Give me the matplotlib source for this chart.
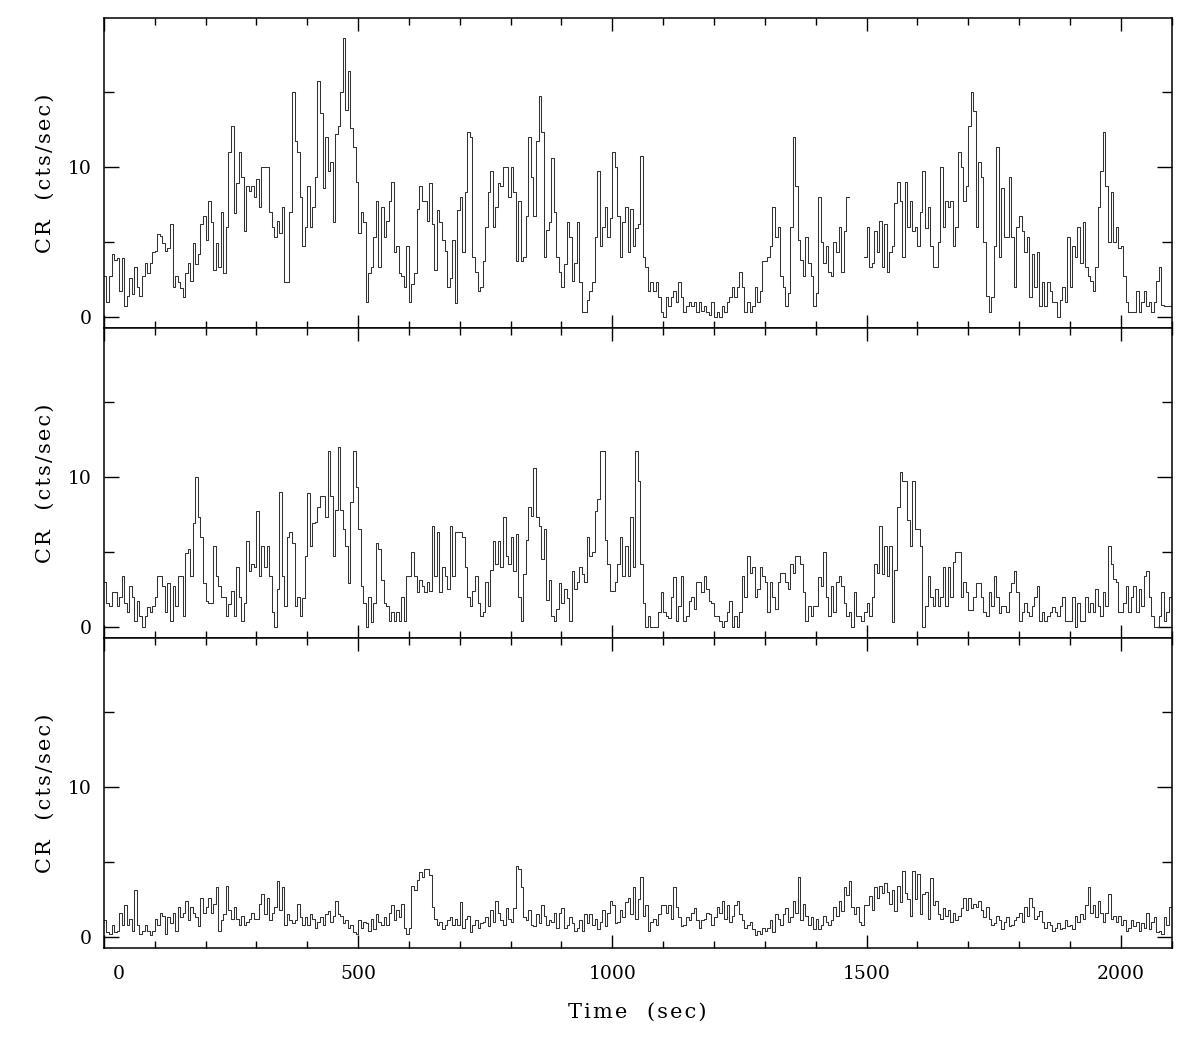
import numpy as np
import matplotlib
matplotlib.use('Agg')
import matplotlib.pyplot as plt
from matplotlib.ticker import MultipleLocator

plt.rcParams['font.family'] = ['DejaVu Serif']

nan = float('nan')
BIN_SEC = 5.0   # light curve bin size

# count rate (cts/sec), 20 bins = 100 s per line
rate_top = [
    2.7, 1.0, 2.7, 4.2, 3.8, 3.9, 1.7, 3.9, 0.7, 1.4, 2.6, 1.5, 3.3, 2.0, 1.4, 2.7, 3.6, 2.9, 3.6, 4.3,
    4.4, 5.5, 5.4, 4.9, 4.4, 4.6, 6.2, 2.0, 2.7, 2.3, 1.9, 1.3, 2.9, 3.6, 2.4, 4.9, 3.5, 4.2, 6.2, 6.7,
    5.1, 7.7, 6.3, 3.1, 4.9, 3.3, 7.0, 2.9, 6.0, 11.0, 12.7, 6.9, 8.9, 11.0, 9.3, 5.7, 8.7, 8.4, 8.7, 8.0,
    9.2, 7.3, 10.0, 10.0, 10.0, 7.0, 6.0, 5.3, 6.4, 5.6, 7.3, 2.3, 2.3, 7.0, 15.0, 11.7, 11.0, 8.0, 4.7, 6.0,
    8.7, 6.0, 7.3, 9.3, 15.7, 13.6, 8.6, 12.0, 9.7, 10.3, 6.3, 12.2, 12.7, 15.0, 18.6, 13.8, 16.4, 12.6, 11.3, 9.0,
    5.6, 7.0, 6.3, 1.0, 2.9, 3.3, 5.3, 7.7, 3.3, 7.3, 5.3, 6.4, 7.7, 9.0, 4.3, 4.7, 2.9, 2.7, 2.0, 4.7,
    1.0, 2.2, 2.9, 7.2, 8.7, 7.7, 7.7, 6.4, 8.9, 6.2, 3.1, 7.1, 6.3, 5.1, 4.4, 2.0, 2.6, 5.1, 0.9, 7.1,
    8.0, 4.3, 8.3, 12.3, 12.0, 4.0, 3.0, 1.7, 2.0, 3.7, 6.0, 8.3, 9.7, 6.0, 7.3, 8.9, 8.7, 10.0, 10.0, 8.0,
    10.0, 8.3, 3.7, 7.7, 3.7, 4.0, 6.7, 12.0, 9.3, 6.7, 11.7, 14.7, 12.3, 4.0, 5.8, 6.3, 10.6, 7.0, 4.0, 3.0,
    2.0, 3.5, 6.3, 5.3, 2.4, 3.6, 6.3, 2.3, 0.3, 0.3, 1.1, 1.7, 2.3, 5.3, 9.7, 4.7, 6.0, 7.3, 5.3, 6.6,
    11.0, 10.0, 6.7, 4.0, 6.3, 7.3, 4.3, 7.2, 4.7, 5.9, 6.2, 10.7, 4.0, 3.3, 1.7, 2.3, 1.7, 2.3, 1.3, 0.3,
    0.0, 1.3, 0.7, 1.3, 1.7, 1.0, 2.3, 1.3, 0.3, 0.7, 1.0, 0.7, 1.0, 0.3, 1.0, 0.4, 0.7, 0.3, 0.1, 1.0,
    0.0, 0.3, 0.0, 0.7, 0.3, 1.0, 1.3, 2.0, 1.3, 2.0, 3.0, 2.0, 0.3, 1.0, 0.3, 0.7, 2.0, 1.0, 1.7, 3.7,
    3.7, 4.0, 4.7, 7.3, 5.3, 6.0, 2.7, 2.0, 0.7, 1.6, 6.0, 12.0, 8.7, 5.1, 3.8, 2.7, 5.3, 3.6, 2.7, 0.7,
    1.6, 8.0, 5.0, 3.6, 4.7, 3.0, 2.7, 5.0, 4.3, 6.0, 3.0, 5.7, 8.0, nan, nan, nan, nan, nan, nan, 4.0,
    6.0, 3.3, 3.6, 5.7, 4.3, 6.4, 3.3, 6.2, 3.0, 4.3, 4.7, 7.6, 9.0, 7.7, 4.0, 9.0, 6.0, 7.7, 5.7, 6.0,
    4.7, 7.0, 9.7, 5.9, 7.3, 4.7, 3.3, 3.3, 5.0, 10.0, 6.0, 7.7, 7.3, 7.7, 4.7, 6.0, 11.0, 10.0, 7.7, 8.7,
    12.7, 15.0, 13.7, 6.0, 10.3, 9.3, 5.0, 1.4, 0.3, 1.3, 4.7, 11.3, 4.0, 8.6, 5.3, 5.3, 9.3, 5.3, 2.0, 6.0,
    6.7, 5.7, 4.3, 5.3, 1.3, 4.2, 2.0, 4.3, 0.7, 2.3, 0.7, 2.3, 1.7, 1.0, 1.0, 0.0, 1.1, 2.0, 1.0, 5.3,
    2.0, 4.7, 4.0, 6.0, 3.6, 6.3, 3.3, 2.7, 2.4, 1.7, 3.3, 7.3, 9.7, 12.3, 8.7, 5.0, 8.3, 5.0, 6.0, 4.6,
    4.7, 2.7, 1.0, 0.3, 0.3, 0.3, 1.7, 0.3, 1.0, 1.7, 0.7, 1.0, 0.3, 1.0, 2.4, 3.3, 0.8, 0.7, 0.7, 0.7,
]

rate_mid = [
    3.0, 1.6, 1.4, 2.3, 2.3, 1.4, 2.0, 3.4, 1.6, 1.0, 2.7, 2.0, 0.4, 1.7, 0.7, 0.0, 0.7, 1.3, 1.0, 1.4,
    2.0, 3.4, 3.4, 2.7, 1.0, 2.9, 0.4, 2.7, 1.4, 3.4, 3.4, 0.7, 4.9, 5.2, 3.4, 6.9, 10.0, 7.3, 6.0, 2.9,
    1.7, 1.6, 1.6, 5.4, 3.4, 2.7, 2.0, 2.0, 0.7, 1.5, 2.4, 0.7, 4.0, 2.0, 0.4, 1.6, 5.7, 3.7, 4.2, 4.0,
    7.7, 3.4, 5.4, 4.0, 5.4, 3.4, 1.0, 0.0, 2.5, 9.0, 3.4, 1.4, 6.0, 6.3, 5.6, 1.4, 2.0, 0.7, 1.9, 4.7,
    8.9, 5.4, 6.9, 7.0, 8.0, 8.7, 8.7, 7.3, 11.7, 8.7, 4.7, 7.8, 12.0, 7.8, 6.5, 5.4, 2.9, 8.3, 11.7, 9.3,
    6.5, 2.7, 1.6, 0.0, 2.0, 0.3, 1.6, 5.6, 5.2, 3.1, 1.6, 1.4, 0.4, 1.0, 0.4, 1.0, 0.4, 2.0, 0.4, 3.4,
    3.4, 5.0, 3.4, 2.3, 3.1, 2.7, 2.3, 3.0, 2.4, 6.7, 3.4, 6.3, 2.3, 4.0, 3.4, 2.5, 6.7, 3.4, 6.3, 6.3,
    6.3, 6.0, 4.0, 2.0, 1.4, 2.4, 3.4, 1.6, 0.7, 1.0, 3.0, 1.4, 3.8, 5.7, 4.2, 5.7, 4.0, 7.3, 4.7, 4.2,
    6.0, 3.7, 6.2, 2.0, 0.4, 3.5, 5.8, 8.0, 7.4, 10.6, 7.3, 6.7, 4.5, 6.5, 1.8, 3.1, 0.7, 0.4, 1.2, 2.9,
    1.6, 2.5, 1.9, 0.4, 3.7, 2.5, 3.0, 4.0, 3.5, 3.0, 6.0, 4.7, 5.0, 7.7, 8.5, 11.7, 11.7, 5.8, 4.2, 2.4,
    2.4, 3.0, 4.2, 6.0, 3.4, 5.4, 3.4, 7.3, 4.0, 11.7, 9.7, 4.2, 1.6, 0.0, 0.7, 0.0, 0.0, 0.0, 1.0, 2.3,
    1.0, 0.7, 0.6, 2.0, 3.3, 0.4, 1.4, 3.4, 0.4, 0.7, 1.7, 2.0, 1.2, 3.0, 3.0, 2.3, 3.4, 2.5, 1.7, 1.6,
    0.7, 0.7, 0.4, 0.0, 0.4, 1.0, 1.7, 0.0, 0.7, 0.0, 1.0, 3.4, 2.0, 4.7, 3.6, 4.0, 2.0, 2.5, 4.0, 3.4,
    3.0, 1.0, 3.0, 2.0, 1.2, 3.0, 3.6, 3.6, 3.0, 2.5, 4.2, 3.6, 4.7, 4.7, 4.2, 2.3, 0.4, 1.4, 0.7, 1.4,
    1.4, 3.3, 2.7, 5.0, 2.0, 0.7, 2.7, 1.0, 3.0, 3.4, 2.7, 1.6, 0.7, 1.0, 0.0, 2.3, 0.7, 0.7, 0.4, 1.0,
    1.6, 0.7, 2.0, 4.2, 3.6, 6.7, 3.5, 5.4, 3.4, 5.4, 0.3, 3.8, 8.0, 10.3, 9.7, 9.7, 7.1, 5.4, 9.7, 6.5,
    6.5, 5.4, 0.0, 1.4, 3.4, 2.0, 1.4, 2.5, 1.4, 2.0, 4.0, 1.4, 4.0, 2.0, 4.3, 5.0, 5.0, 2.0, 3.0, 2.3,
    1.1, 1.1, 2.0, 2.9, 2.9, 2.0, 1.0, 0.7, 2.3, 1.4, 3.4, 2.0, 0.9, 1.4, 1.4, 1.0, 2.3, 2.9, 3.7, 2.3,
    0.4, 1.0, 1.6, 1.0, 0.7, 1.4, 2.0, 2.7, 0.4, 1.0, 0.4, 0.7, 1.0, 1.3, 1.0, 0.7, 1.4, 2.0, 0.4, 0.4,
    0.4, 2.0, 0.0, 1.6, 0.4, 0.4, 2.0, 1.0, 1.6, 1.0, 2.5, 1.4, 0.7, 2.3, 1.4, 5.4, 4.2, 3.2, 3.0, 1.0,
    1.0, 1.6, 2.7, 1.0, 2.0, 2.7, 1.0, 2.5, 1.4, 3.4, 3.7, 2.0, 0.7, 0.0, 0.0, 0.7, 2.3, 0.4, 1.0, 2.0,
]

rate_bot = [
    1.1, 0.3, 0.2, 0.8, 0.3, 0.4, 1.6, 0.8, 2.1, 0.8, 1.2, 0.4, 3.1, 0.8, 0.2, 0.4, 0.8, 0.4, 0.1, 0.4,
    1.2, 0.8, 1.6, 1.4, 0.2, 1.3, 0.9, 1.6, 0.4, 2.0, 1.3, 1.6, 2.4, 1.1, 2.0, 1.6, 1.3, 0.7, 2.6, 1.6,
    2.0, 2.6, 1.6, 2.2, 3.3, 0.4, 1.1, 1.5, 3.4, 1.75, 1.2, 2.0, 1.2, 0.8, 1.4, 0.8, 1.0, 1.2, 1.6, 1.2,
    1.2, 2.2, 2.85, 1.5, 2.6, 1.1, 1.6, 2.0, 3.7, 1.75, 3.3, 0.8, 1.5, 1.1, 0.9, 1.1, 2.2, 1.3, 0.8, 1.3,
    0.8, 1.5, 1.2, 0.6, 1.0, 1.3, 0.8, 1.5, 1.7, 1.0, 1.4, 2.4, 1.5, 1.4, 0.9, 1.1, 0.6, 0.8, 0.3, 0.2,
    1.1, 0.6, 1.0, 0.9, 0.4, 1.2, 0.5, 1.5, 1.0, 0.8, 1.3, 0.8, 1.6, 2.1, 1.1, 1.8, 1.3, 2.2, 0.6, 0.2,
    0.6, 3.4, 3.1, 3.8, 4.3, 4.0, 4.5, 4.5, 4.1, 2.0, 1.2, 0.8, 1.0, 0.5, 0.8, 1.1, 1.3, 0.8, 1.2, 0.8,
    2.3, 0.6, 1.2, 1.4, 0.3, 0.8, 1.1, 0.6, 0.9, 1.0, 1.3, 0.7, 1.75, 1.0, 2.4, 1.6, 1.1, 0.8, 1.9, 1.2,
    1.0, 1.9, 4.7, 4.5, 3.3, 1.3, 1.1, 1.75, 0.8, 0.7, 1.5, 0.9, 2.1, 1.4, 0.8, 1.1, 1.0, 1.6, 0.6, 1.6,
    1.9, 0.6, 0.8, 1.3, 0.9, 0.4, 0.6, 1.1, 0.4, 1.5, 0.9, 1.5, 0.8, 1.2, 0.5, 1.0, 1.8, 0.7, 1.6, 2.4,
    2.1, 0.9, 1.0, 1.75, 1.3, 2.3, 2.6, 1.5, 3.3, 1.2, 2.5, 4.0, 1.4, 2.1, 0.4, 1.0, 1.2, 0.8, 1.5, 2.1,
    2.1, 1.6, 2.1, 1.2, 3.3, 2.0, 1.3, 0.7, 0.8, 1.3, 1.1, 1.6, 1.9, 1.1, 0.6, 1.1, 1.2, 1.6, 1.5, 0.8,
    1.3, 2.0, 1.6, 2.4, 1.2, 2.1, 1.0, 1.4, 2.1, 2.4, 1.5, 1.1, 0.6, 0.8, 1.0, 0.5, 0.1, 0.4, 0.2, 0.6,
    0.4, 0.6, 1.1, 0.3, 1.5, 1.2, 0.8, 1.5, 1.9, 1.0, 1.3, 2.4, 1.6, 4.0, 1.1, 2.2, 1.4, 0.8, 1.3, 0.5,
    1.2, 0.5, 0.8, 1.4, 1.0, 0.8, 1.1, 2.0, 1.4, 2.4, 1.7, 3.3, 2.8, 3.7, 2.0, 1.5, 2.0, 1.0, 0.8, 2.1,
    2.1, 2.7, 1.8, 3.3, 2.6, 3.4, 2.9, 3.6, 3.0, 2.2, 3.1, 1.7, 3.4, 2.3, 4.4, 2.9, 2.5, 1.4, 4.4, 2.5,
    4.2, 1.5, 2.85, 3.0, 1.2, 3.9, 2.1, 2.4, 1.5, 1.2, 1.9, 1.4, 1.8, 1.0, 1.6, 1.1, 1.4, 1.9, 2.6, 1.8,
    2.6, 1.9, 2.2, 2.0, 2.4, 1.75, 1.3, 2.0, 1.2, 0.8, 0.9, 1.4, 1.1, 0.5, 1.0, 1.3, 0.7, 0.8, 1.1, 1.3,
    1.6, 1.0, 2.0, 1.4, 2.6, 2.0, 1.2, 1.4, 1.7, 1.0, 0.6, 1.0, 0.8, 0.4, 0.6, 0.9, 0.5, 0.6, 1.1, 0.7,
    0.8, 0.5, 1.4, 1.0, 1.5, 1.2, 2.1, 3.3, 1.6, 2.1, 1.3, 2.4, 1.6, 1.0, 1.6, 2.85, 1.2, 1.4, 1.0, 1.4,
    0.8, 1.1, 0.4, 0.6, 1.1, 0.7, 1.0, 0.4, 0.9, 0.6, 1.6, 0.5, 1.0, 1.3, 0.3, 0.4, 0.2, 1.3, 0.8, 2.0,
]

x_ticks = [0, 500, 1000, 1500, 2000]
x_labels = ['', '500', '1000', '1500', '2000']
y_ticks = [0, 10]
y_labels = ['0', '10']


def spaced(s, gap):
    # the original labels are set with wide letter spacing
    return gap.join(s)


fig = plt.figure(figsize=(11.9, 10.46), dpi=100)

left, right = 0.0873, 0.9845
top, bottom = 0.9828, 0.0937
h = (top - bottom) / 3

panels = [rate_top, rate_mid, rate_bot]
for i, rate in enumerate(panels):
    ax = fig.add_axes([left, top - (i + 1) * h, right - left, h])
    r = np.array(rate, dtype=float)
    edges = np.arange(len(r) + 1) * BIN_SEC
    ax.step(edges, np.append(r, r[-1]), where='post', color='#333333', lw=0.75)

    ax.set_xlim(0, 2100)
    ax.set_ylim(-0.75, 19.9)
    ax.set_xticks(x_ticks)
    ax.xaxis.set_minor_locator(MultipleLocator(100))
    ax.set_yticks(y_ticks)
    ax.set_yticklabels(y_labels)
    ax.yaxis.set_minor_locator(MultipleLocator(5))

    ax.tick_params(which='both', direction='in', top=True, right=True,
                   width=1.0, color='black', labelsize=13.5)
    ax.tick_params(axis='x', which='major', length=9.5, pad=12)
    ax.tick_params(axis='x', which='minor', length=5)
    ax.tick_params(axis='y', which='major', length=10.8, pad=9)
    ax.tick_params(axis='y', which='minor', length=7)
    for sp in ax.spines.values():
        sp.set_linewidth(1.1)

    ax.set_ylabel(spaced('CR  (cts/sec)', '\u200a'), fontsize=15, va='center')
    ax.yaxis.set_label_coords(-0.055, 0.5)

    if i < 2:
        ax.tick_params(axis='x', which='both', labelbottom=False)
    else:
        ax.set_xticklabels(x_labels)
        # the "0" label sits a little right of the axis edge
        ax.annotate('0', xy=(0, 0), xycoords=('data', 'axes fraction'),
                    xytext=(15, -17), textcoords='offset pixels',
                    ha='center', va='top', fontsize=13.5)

fig.text((left + right) / 2, 0.0325, spaced('Time  (sec)', '\u200a'),
         ha='center', va='center', fontsize=15)

fig.savefig('out.png', dpi=100)
